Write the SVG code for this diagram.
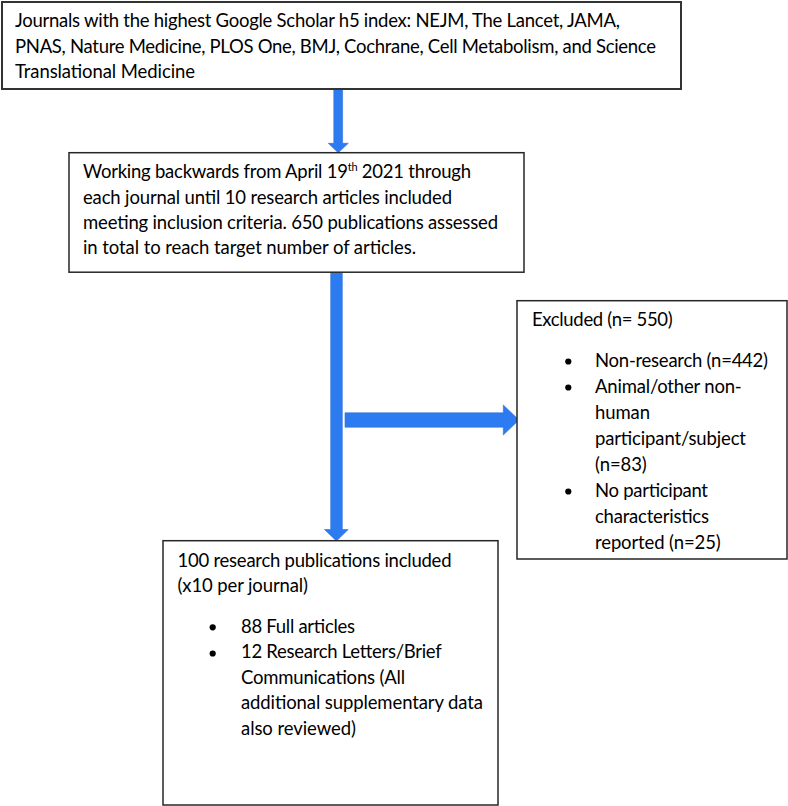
<svg xmlns="http://www.w3.org/2000/svg" width="788" height="806" viewBox="0 0 788 806">
  <style>
    .box { fill: #ffffff; stroke: #262626; stroke-width: 1.5; }
    .box1 { fill: #ffffff; stroke: #333333; stroke-width: 2; }
    .t { font-family: Lato, "Open Sans", "Liberation Sans", sans-serif; font-size: 18.5px; fill: #000000; }
    .sup { font-size: 11px; }
    .bul { fill: #000000; }
    .arrow { fill: #2d7bf0; stroke: #2a6fd9; stroke-width: 0.6; }
  </style>
  <rect width="788" height="806" fill="#ffffff"/>

  <g id="connectors">
    <polygon class="arrow" points="333.8,89 342.6,89 342.6,143.3 348.3,143.3 338.2,152.7 328.3,143.3 333.8,143.3"/>
    <polygon class="arrow" points="330.7,272.5 342.3,272.5 342.3,529.5 348.2,529.5 336.4,541 324.5,529.5 330.7,529.5"/>
    <polygon class="arrow" points="345,412.8 503.3,412.8 503.3,405 519,420 503.3,435 503.3,427.2 345,427.2"/>
  </g>

  <g id="node-journals">
    <rect class="box1" x="2" y="2" width="679" height="87"/>
    <text class="t" x="15" y="27.3" textLength="605">Journals with the highest Google Scholar h5 index: NEJM, The Lancet, JAMA,</text>
    <text class="t" x="15" y="52.5" textLength="641">PNAS, Nature Medicine, PLOS One, BMJ, Cochrane, Cell Metabolism, and Science</text>
    <text class="t" x="15" y="77.5" textLength="180">Translational Medicine</text>
  </g>

  <g id="node-working">
    <rect class="box" x="69" y="152.7" width="455" height="119.5"/>
    <text class="t" x="83" y="178.3" textLength="388">Working backwards from April 19<tspan class="sup" dy="-7">th</tspan><tspan dy="7"> 2021 through</tspan></text>
    <text class="t" x="83" y="203.6" textLength="369">each journal until 10 research articles included</text>
    <text class="t" x="83" y="229" textLength="415">meeting inclusion criteria. 650 publications assessed</text>
    <text class="t" x="83" y="254.4" textLength="333">in total to reach target number of articles.</text>
  </g>

  <g id="node-excluded">
    <rect class="box" x="517" y="300.7" width="270" height="258.3"/>
    <text class="t" x="532" y="326" textLength="140.7">Excluded (n= 550)</text>
    <circle class="bul" cx="568.3" cy="361.5" r="3.1"/>
    <text class="t" x="595" y="367" textLength="173">Non-research (n=442)</text>
    <circle class="bul" cx="568.3" cy="387.5" r="3.1"/>
    <text class="t" x="595" y="393" textLength="146.7">Animal/other non-</text>
    <text class="t" x="595" y="419" textLength="55">human</text>
    <text class="t" x="595" y="445" textLength="151">participant/subject</text>
    <text class="t" x="595" y="471" textLength="51.7">(n=83)</text>
    <circle class="bul" cx="568.3" cy="491.5" r="3.1"/>
    <text class="t" x="595" y="497" textLength="113">No participant</text>
    <text class="t" x="595" y="523" textLength="114">characteristics</text>
    <text class="t" x="595" y="549" textLength="125.7">reported (n=25)</text>
  </g>

  <g id="node-included">
    <rect class="box" x="163" y="540.7" width="335" height="264.3"/>
    <text class="t" x="177.5" y="566.7" textLength="274">100 research publications included</text>
    <text class="t" x="177.5" y="591.7" textLength="130.5">(x10 per journal)</text>
    <circle class="bul" cx="212.7" cy="627.3" r="3.1"/>
    <text class="t" x="241" y="632.7" textLength="114">88 Full articles</text>
    <circle class="bul" cx="212.7" cy="653.5" r="3.1"/>
    <text class="t" x="241" y="658.2" textLength="200.7">12 Research Letters/Brief</text>
    <text class="t" x="241" y="683.6" textLength="164">Communications (All</text>
    <text class="t" x="241" y="709" textLength="242">additional supplementary data</text>
    <text class="t" x="241" y="734.5" textLength="115">also reviewed)</text>
  </g>
</svg>
